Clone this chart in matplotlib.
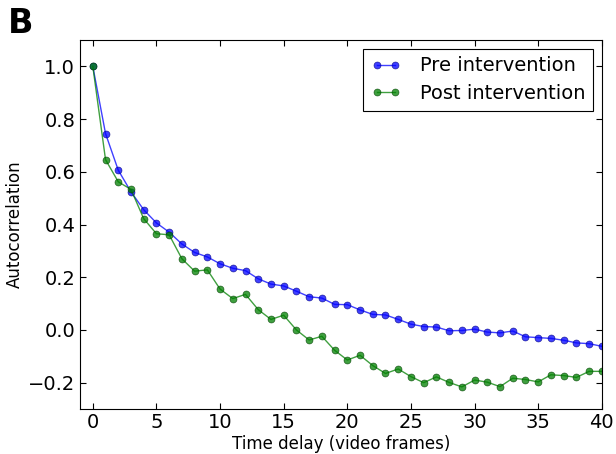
import numpy as np
import matplotlib.pyplot as plt

# Autocorrelation vs. time delay (video frames)
lag = np.arange(0, 41)

pre_intervention = [
    1.0, 0.745, 0.606, 0.524, 0.456, 0.406, 0.371, 0.326, 0.294, 0.277,
    0.251, 0.234, 0.225, 0.194, 0.174, 0.167, 0.147, 0.126, 0.121, 0.097,
    0.096, 0.076, 0.059, 0.057, 0.040, 0.022, 0.013, 0.011, -0.003, -0.002,
    0.003, -0.008, -0.011, -0.004, -0.026, -0.029, -0.032, -0.039, -0.049, -0.052,
    -0.062,
]
post_intervention = [
    1.0, 0.646, 0.562, 0.533, 0.422, 0.365, 0.361, 0.270, 0.223, 0.228,
    0.155, 0.119, 0.135, 0.077, 0.040, 0.056, 0.000, -0.038, -0.024, -0.077,
    -0.114, -0.096, -0.135, -0.165, -0.148, -0.177, -0.200, -0.178, -0.199, -0.216,
    -0.190, -0.198, -0.215, -0.183, -0.188, -0.197, -0.170, -0.173, -0.180, -0.157,
    -0.157,
]

fig = plt.figure(figsize=(6.16, 4.54), dpi=100)
ax = fig.add_axes([0.130, 0.099, 0.847, 0.813])

ax.plot(lag, pre_intervention, '-o', color='#0000ff', alpha=0.75, lw=1,
        ms=5, mec='#000080', mew=0.5, label='Pre intervention')
ax.plot(lag, post_intervention, '-o', color='#008000', alpha=0.75, lw=1,
        ms=5, mec='#004000', mew=0.5, label='Post intervention')

ax.set_xlim(-1, 40)
ax.set_ylim(-0.3, 1.1)
ax.set_xticks(np.arange(0, 41, 5))
ax.set_yticks([-0.2, 0.0, 0.2, 0.4, 0.6, 0.8, 1.0])
ax.set_yticklabels(['\u22120.2', '0.0', '0.2', '0.4', '0.6', '0.8', '1.0'])
ax.tick_params(direction='in', top=True, right=True, labelsize=14, length=4)
ax.tick_params(axis='x', pad=3)
ax.set_xlabel('Time delay (video frames)', fontsize=12, labelpad=2)
ax.set_ylabel('Autocorrelation', fontsize=12, labelpad=3)

leg = ax.legend(loc='upper right', fontsize=14, fancybox=False, framealpha=1,
                edgecolor='black', numpoints=2, handlelength=1.5, handletextpad=1.0,
                borderpad=0.4, labelspacing=0.45, borderaxespad=0.45)
leg.get_frame().set_linewidth(0.8)

fig.text(0.012, 0.985, 'B', fontsize=24, fontweight='bold', va='top', ha='left')

fig.savefig('out.png', dpi=100)
